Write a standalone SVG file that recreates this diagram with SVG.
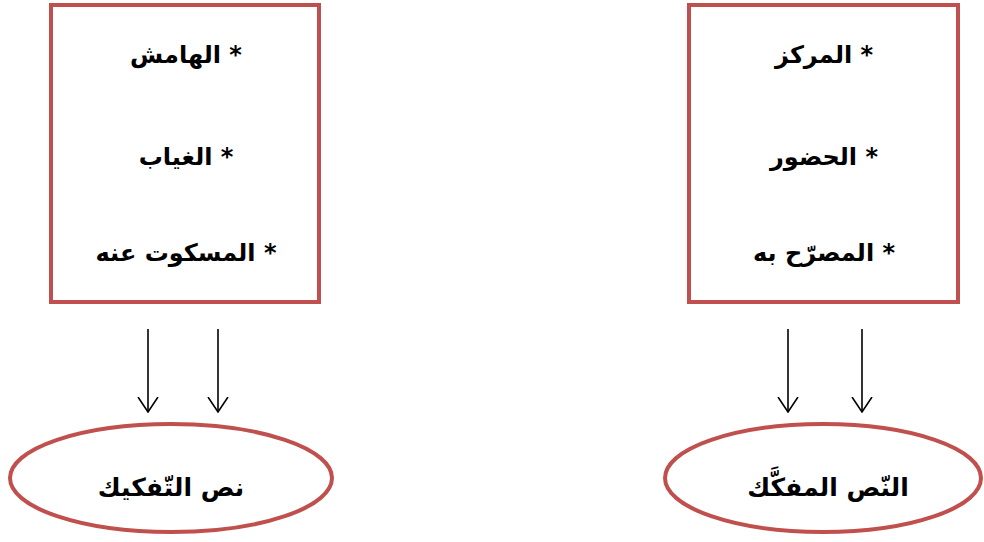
<svg xmlns="http://www.w3.org/2000/svg" width="984" height="542" viewBox="0 0 984 542">
<defs>
<marker id="arr" viewBox="0 0 16 22" refX="15" refY="11" markerWidth="16" markerHeight="22" markerUnits="userSpaceOnUse" orient="auto">
<path d="M0,1 L15,11 L0,21" fill="none" stroke="#000" stroke-width="1.6"/>
</marker>
<style>
.box{fill:#fff;stroke:#C0504D;stroke-width:4}
.ell{fill:#fff;stroke:#C0504D;stroke-width:4}
.t{font-family:"DejaVu Sans","Noto Sans",sans-serif;font-weight:bold;font-size:24px;fill:#000;text-anchor:middle;direction:rtl;unicode-bidi:embed}
.c line{stroke:#000;stroke-width:1.6}
</style>
</defs>
<g id="box-left">
<rect class="box" x="51" y="5" width="268" height="297"/>
<text class="t" x="186" y="63" direction="rtl">* الهامش</text>
<text class="t" x="186" y="165" direction="rtl">* الغياب</text>
<text class="t" x="186" y="261" direction="rtl">* المسكوت عنه</text>
</g>
<g id="box-right">
<rect class="box" x="689" y="5" width="269" height="297"/>
<text class="t" x="824" y="63" direction="rtl">* المركز</text>
<text class="t" x="824" y="165" direction="rtl">* الحضور</text>
<text class="t" x="824" y="261" direction="rtl">* المصرّح به</text>
</g>
<g id="ellipse-left">
<ellipse class="ell" cx="171" cy="478" rx="161" ry="54"/>
<text class="t" x="171" y="496" direction="rtl" style="font-size:25px">نص التّفكيك</text>
</g>
<g id="ellipse-right">
<ellipse class="ell" cx="823" cy="478" rx="158" ry="54"/>
<text class="t" x="828" y="496" direction="rtl" style="font-size:25px">النّص المفكَّك</text>
</g>
<g id="connectors" class="c">
<line x1="148" y1="329" x2="148" y2="412" marker-end="url(#arr)"/>
<line x1="218" y1="329" x2="218" y2="412" marker-end="url(#arr)"/>
<line x1="788" y1="329" x2="788" y2="412" marker-end="url(#arr)"/>
<line x1="862" y1="329" x2="862" y2="412" marker-end="url(#arr)"/>
</g>
</svg>
